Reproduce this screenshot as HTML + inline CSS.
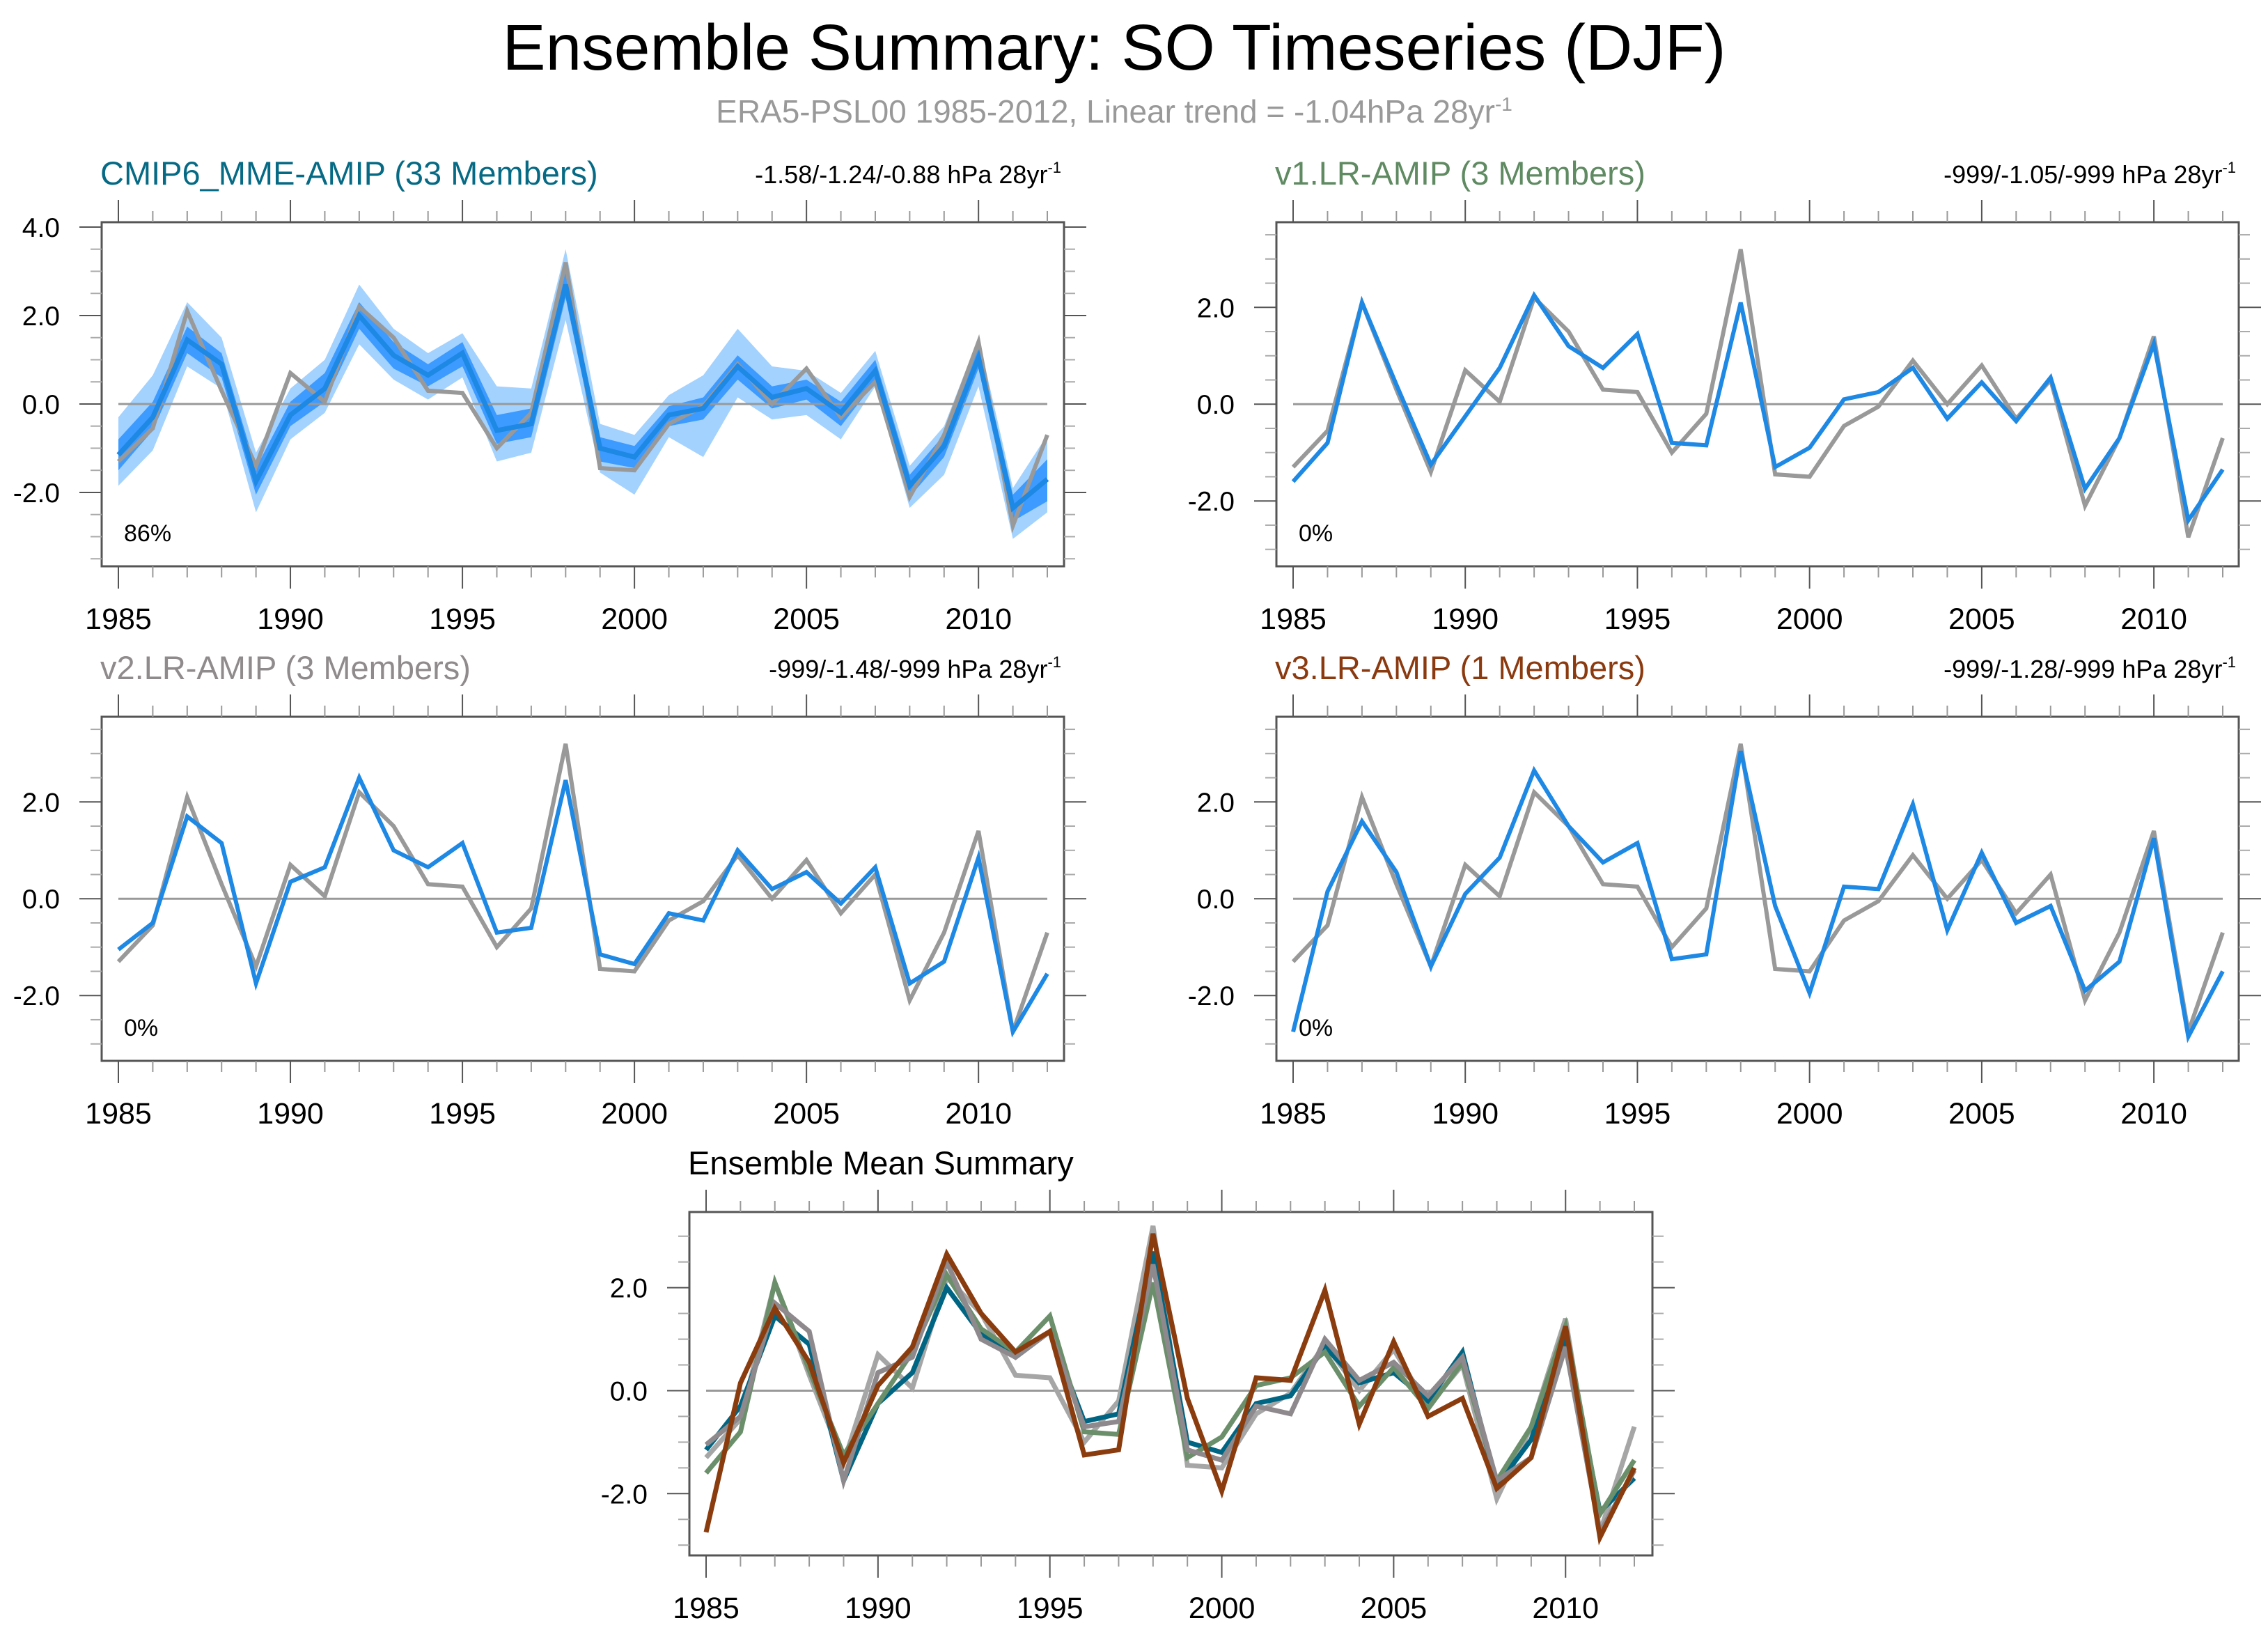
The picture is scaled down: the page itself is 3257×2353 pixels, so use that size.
<!DOCTYPE html>
<html><head><meta charset="utf-8">
<style>
html,body{margin:0;padding:0;background:#fff;}
svg{display:block;font-family:"Liberation Sans",sans-serif;}
</style></head>
<body>
<svg id="chart" width="3257" height="2353" viewBox="0 0 3257 2353" xmlns="http://www.w3.org/2000/svg">
<text x="1600" y="100" font-size="93" text-anchor="middle" fill="#000">Ensemble Summary: SO Timeseries (DJF)</text>
<text x="1600" y="176" font-size="46" text-anchor="middle" fill="#999">ERA5-PSL00 1985-2012, Linear trend = -1.04hPa 28yr<tspan dy="-17" font-size="28">-1</tspan></text>
<g id="plots"></g>
</svg>
<script>
const years = [1985,1986,1987,1988,1989,1990,1991,1992,1993,1994,1995,1996,1997,1998,1999,2000,2001,2002,2003,2004,2005,2006,2007,2008,2009,2010,2011,2012];
const obs = [-1.3,-0.55,2.1,0.3,-1.4,0.7,0.05,2.2,1.5,0.3,0.25,-1.0,-0.2,3.2,-1.45,-1.5,-0.45,-0.05,0.9,0.0,0.8,-0.3,0.5,-2.1,-0.7,1.4,-2.75,-0.7];
const mme = [-1.15,-0.3,1.45,0.9,-1.75,-0.25,0.35,2.0,1.1,0.65,1.15,-0.6,-0.45,2.7,-1.0,-1.2,-0.25,-0.1,0.85,0.15,0.35,-0.2,0.75,-1.85,-0.95,1.05,-2.35,-1.7];
const mmeLightUpper = [-0.3,0.65,2.3,1.5,-1.1,0.35,1.0,2.7,1.7,1.15,1.6,0.4,0.35,3.5,-0.45,-0.7,0.2,0.65,1.7,0.85,0.75,0.25,1.2,-1.4,-0.5,1.5,-1.9,-0.7];
const mmeLightLower = [-1.85,-1.05,0.85,0.35,-2.45,-0.8,-0.2,1.35,0.55,0.1,0.6,-1.3,-1.1,1.9,-1.55,-2.05,-0.75,-1.2,0.15,-0.35,-0.25,-0.8,0.4,-2.35,-1.6,0.4,-3.05,-2.45];
const mmeDarkUpper = [-0.8,0.05,1.75,1.15,-1.45,0.05,0.7,2.3,1.4,0.9,1.4,-0.25,-0.1,3.0,-0.75,-0.95,-0.05,0.15,1.1,0.4,0.55,0.05,1.0,-1.6,-0.7,1.3,-2.05,-1.25];
const mmeDarkLower = [-1.5,-0.6,1.15,0.6,-2.05,-0.5,0.05,1.7,0.8,0.4,0.85,-0.9,-0.75,2.4,-1.3,-1.45,-0.5,-0.35,0.55,-0.1,0.1,-0.5,0.5,-2.1,-1.2,0.8,-2.65,-2.2];
const v1 = [-1.6,-0.8,2.1,0.4,-1.25,-0.25,0.75,2.25,1.2,0.75,1.45,-0.8,-0.85,2.1,-1.3,-0.9,0.1,0.25,0.75,-0.3,0.45,-0.35,0.55,-1.75,-0.7,1.25,-2.4,-1.35];
const v2 = [-1.05,-0.5,1.7,1.15,-1.75,0.35,0.65,2.5,1.0,0.65,1.15,-0.7,-0.6,2.45,-1.15,-1.35,-0.3,-0.45,1.0,0.2,0.55,-0.1,0.65,-1.75,-1.3,0.85,-2.75,-1.55];
const v3 = [-2.75,0.15,1.6,0.55,-1.4,0.1,0.85,2.65,1.5,0.75,1.15,-1.25,-1.15,3.05,-0.15,-1.95,0.25,0.2,1.95,-0.65,0.95,-0.5,-0.15,-1.9,-1.3,1.25,-2.85,-1.5];
const xTickLabels = [1985,1990,1995,2000,2005,2010];
const yTickLabels = [-2,0,2,4];

const NS="http://www.w3.org/2000/svg";
const root=document.getElementById('plots');
function mk(tag,attrs,parent){const e=document.createElementNS(NS,tag);for(const k in attrs)e.setAttribute(k,attrs[k]);(parent||root).appendChild(e);return e;}

const BLUE="#1e88e5";
function panel(cfg){
  const g=mk('g',{});
  
  
  const {fx,fy,fw,fh,x0,x1,ymin,ymax}=cfg;
  const X=y=>x0+(y-1985)/(2012-1985)*(x1-x0);
  const Y=v=>fy+(ymax-v)/(ymax-ymin)*fh;
  if(cfg.bands){
    for(const b of cfg.bands){
      let d='M'+years.map((yr,i)=>X(yr)+','+Y(b.u[i])).join('L');
      for(let i=years.length-1;i>=0;i--) d+='L'+X(years[i])+','+Y(b.l[i]);
      const p=mk('path',{d:d+'Z',fill:b.c,stroke:'none'},g);
      
      
    }
  }
  const z=mk('line',{x1:X(1985),x2:X(2012),y1:Y(0),y2:Y(0),stroke:'#999','stroke-width':3},g);
  
  
  for(const s of cfg.series){
    const pl=mk('polyline',{points:years.map((yr,i)=>X(yr)+','+Y(s.v[i])).join(' '),fill:'none',stroke:s.c,'stroke-width':s.w||6,'stroke-linejoin':'miter'},g);
    
    
  }
  const fr=mk('rect',{x:fx,y:fy,width:fw,height:fh,fill:'none',stroke:'#555','stroke-width':3},g);
  
  
  for(const yr of years){
    const maj=yr%5===0, L=maj?32:16, x=X(yr);
    mk('line',{x1:x,x2:x,y1:fy,y2:fy-L,stroke:maj?'#555':'#999','stroke-width':2},g);
    mk('line',{x1:x,x2:x,y1:fy+fh,y2:fy+fh+L,stroke:maj?'#555':'#999','stroke-width':2},g);
  }
  for(const yr of xTickLabels){
    const t=mk('text',{x:X(yr),y:fy+fh+90,'font-size':43,'text-anchor':'middle',fill:'#000'},g);
    t.textContent=yr;
    
    
  }
  for(let v=Math.ceil(ymin*2)/2;v<=ymax;v+=0.5){
    const r=Math.round(v*2)/2, maj=Math.abs(r%2)<1e-6, y=Y(r), L=maj?32:16;
    mk('line',{x1:fx,x2:fx-L,y1:y,y2:y,stroke:maj?'#555':'#aaa','stroke-width':2},g);
    mk('line',{x1:fx+fw,x2:fx+fw+L,y1:y,y2:y,stroke:maj?'#555':'#aaa','stroke-width':2},g);
  }
  for(const v of yTickLabels){
    if(v<ymin||v>ymax) continue;
    const t=mk('text',{x:fx-60,y:Y(v)+14,'font-size':39,'text-anchor':'end',fill:'#000'},g);
    t.textContent=v.toFixed(1);
    
    
  }
  const tt=mk('text',{x:fx-2,y:fy-54,'font-size':47,fill:cfg.tc},g);
  tt.textContent=cfg.title;
  
  
  if(cfg.trend){
    const tr=mk('text',{x:fx+fw-4,y:fy-56,'font-size':36,'text-anchor':'end',fill:'#000'},g);
    tr.innerHTML=cfg.trend+' hPa 28yr<tspan dy="-15" font-size="22">-1</tspan>';
    
    
  }
  if(cfg.pct){
    const pc=mk('text',{x:fx+32,y:fy+fh-36,'font-size':34,fill:'#000'},g);
    pc.textContent=cfg.pct;
    
    
  }
}
const GREY="#999";
panel({name:'panel-cmip6-mme',fx:146,fy:319,fw:1382,fh:494,x0:170,x1:1504,ymin:-3.67,ymax:4.11,title:'CMIP6_MME-AMIP (33 Members)',tc:'#066a85',trend:'-1.58/-1.24/-0.88',pct:'86%',
  bands:[{u:mmeLightUpper,l:mmeLightLower,c:'#a3d2ff',name:'mme-spread-band'},{u:mmeDarkUpper,l:mmeDarkLower,c:'#3d9bff',name:'mme-iqr-band'}],
  series:[{v:obs,c:GREY,name:'obs-line'},{v:mme,c:BLUE,w:7,name:'mme-mean-line'}]});
panel({name:'panel-v1',fx:1833,fy:319,fw:1382,fh:494,x0:1857,x1:3192,ymin:-3.35,ymax:3.76,title:'v1.LR-AMIP (3 Members)',tc:'#5f8a62',trend:'-999/-1.05/-999',pct:'0%',
  series:[{v:obs,c:GREY,name:'obs-line'},{v:v1,c:BLUE,name:'v1-mean-line'}]});
panel({name:'panel-v2',fx:146,fy:1029,fw:1382,fh:494,x0:170,x1:1504,ymin:-3.35,ymax:3.76,title:'v2.LR-AMIP (3 Members)',tc:'#8f8a8c',trend:'-999/-1.48/-999',pct:'0%',
  series:[{v:obs,c:GREY,name:'obs-line'},{v:v2,c:BLUE,name:'v2-mean-line'}]});
panel({name:'panel-v3',fx:1833,fy:1029,fw:1382,fh:494,x0:1857,x1:3192,ymin:-3.35,ymax:3.76,title:'v3.LR-AMIP (1 Members)',tc:'#8b3a0f',trend:'-999/-1.28/-999',pct:'0%',
  series:[{v:obs,c:GREY,name:'obs-line'},{v:v3,c:BLUE,name:'v3-line'}]});
panel({name:'panel-ensemble-mean-summary',fx:990,fy:1740,fw:1383,fh:493,x0:1014,x1:2347,ymin:-3.2,ymax:3.47,title:'Ensemble Mean Summary',tc:'#000',
  series:[{v:obs,c:'#a6a6a6',w:7,name:'obs-line'},{v:mme,c:'#006583',w:7,name:'mme-line'},{v:v1,c:'#6a8f6a',w:7,name:'v1-line'},{v:v2,c:'#8e898c',w:7,name:'v2-line'},{v:v3,c:'#8b3c0e',w:7,name:'v3-line'}]});
</script>
</body></html>
